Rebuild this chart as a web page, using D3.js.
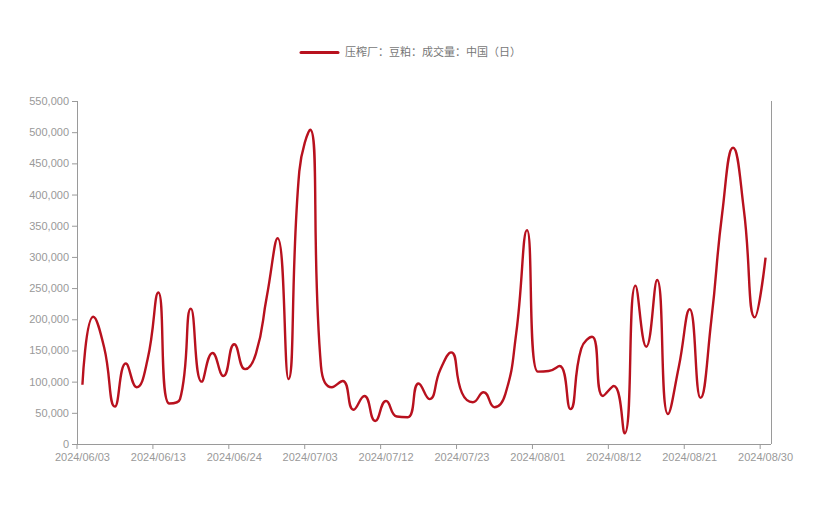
<!DOCTYPE html>
<html>
<head>
<meta charset="utf-8">
<script src="https://cdn.jsdelivr.net/npm/d3@7"></script>
<style>
  html, body { margin: 0; padding: 0; background: #fff; }
  svg { display: block; }
</style>
</head>
<body>
<svg id="chart" width="829" height="521"></svg>
<script>
const seriesName = "压榨厂：豆粕：成交量：中国（日）";

const dates = [
  "2024/06/03","2024/06/04","2024/06/05","2024/06/06","2024/06/07","2024/06/11","2024/06/12","2024/06/13","2024/06/14",
  "2024/06/17","2024/06/18","2024/06/19","2024/06/20","2024/06/21","2024/06/24","2024/06/25","2024/06/26","2024/06/27","2024/06/28",
  "2024/07/01","2024/07/02","2024/07/03","2024/07/04","2024/07/05","2024/07/08","2024/07/09","2024/07/10","2024/07/11","2024/07/12",
  "2024/07/15","2024/07/16","2024/07/17","2024/07/18","2024/07/19","2024/07/22","2024/07/23","2024/07/24","2024/07/25","2024/07/26",
  "2024/07/29","2024/07/30","2024/07/31","2024/08/01","2024/08/02","2024/08/05","2024/08/06","2024/08/07","2024/08/08","2024/08/09",
  "2024/08/12","2024/08/13","2024/08/14","2024/08/15","2024/08/16","2024/08/19","2024/08/20","2024/08/21","2024/08/22","2024/08/23",
  "2024/08/26","2024/08/27","2024/08/28","2024/08/29","2024/08/30"
];

const volumes = [
  95000, 204000, 155000, 60000, 129000, 91000, 135000, 243000, 65000,
  72000, 217000, 100000, 146000, 109000, 160000, 120000, 145000, 236000, 330000,
  104000, 437000, 504000, 125000, 91000, 101000, 55000, 77000, 37000, 69000,
  44000, 43000, 97000, 72000, 119000, 147000, 82000, 67000, 83000, 59000,
  80000, 177000, 343000, 116000, 117000, 125000, 56000, 153000, 172000, 77000,
  93000, 17000, 254000, 156000, 263000, 48000, 124000, 216000, 74000, 199000,
  370000, 475000, 375000, 203000, 299000
];

const yTicks = [0, 50000, 100000, 150000, 200000, 250000, 300000, 350000, 400000, 450000, 500000, 550000];
const xTickLabels = ["2024/06/03","2024/06/13","2024/06/24","2024/07/03","2024/07/12","2024/07/23","2024/08/01","2024/08/12","2024/08/21","2024/08/30"];

const svg = d3.select("#chart");
const plotLeft = 77, plotRight = 771, plotTop = 101, plotBottom = 444;
const axisColor = "#9a9a9a";
const labelColor = "#999";
const lineColor = "#b8111e";
const tickFont = "'Liberation Sans', Arial, sans-serif";

const x = d3.scaleBand().domain(dates).range([plotLeft, plotRight]).padding(0);
const y = d3.scaleLinear().domain([0, 550000]).range([plotBottom, plotTop]);
const bw = x.bandwidth();

// ECharts-like smooth curve (smooth = 0.5, with control point clamping)
function EchartsSmooth(context) { this._context = context; }
EchartsSmooth.prototype = {
  areaStart() {}, areaEnd() {},
  lineStart() { this._pts = []; },
  point(px, py) { this._pts.push([+px, +py]); },
  lineEnd() {
    const ctx = this._context, p = this._pts, n = p.length, s = 0.5;
    if (!n) return;
    ctx.moveTo(p[0][0], p[0][1]);
    let cp0x = p[0][0], cp0y = p[0][1];
    for (let i = 1; i < n; i++) {
      const [xx, yy] = p[i];
      const [prevX, prevY] = p[i - 1];
      let cp1x, cp1y, ncx, ncy;
      if (i === n - 1) {
        cp1x = xx; cp1y = yy; ncx = xx; ncy = yy;
      } else {
        const [nx, ny] = p[i + 1];
        const dx0 = xx - prevX, dy0 = yy - prevY, dx1 = nx - xx, dy1 = ny - yy;
        let vx = nx - prevX, vy = ny - prevY;
        const l0 = Math.hypot(dx0, dy0), l1 = Math.hypot(dx1, dy1);
        const r = l1 / (l0 + l1);
        ncx = xx + vx * s * r; ncy = yy + vy * s * r;
        ncx = Math.min(ncx, Math.max(nx, xx)); ncy = Math.min(ncy, Math.max(ny, yy));
        ncx = Math.max(ncx, Math.min(nx, xx)); ncy = Math.max(ncy, Math.min(ny, yy));
        vx = ncx - xx; vy = ncy - yy;
        cp1x = xx - vx * l0 / l1; cp1y = yy - vy * l0 / l1;
        cp1x = Math.min(cp1x, Math.max(prevX, xx)); cp1y = Math.min(cp1y, Math.max(prevY, yy));
        cp1x = Math.max(cp1x, Math.min(prevX, xx)); cp1y = Math.max(cp1y, Math.min(prevY, yy));
        vx = xx - cp1x; vy = yy - cp1y;
        ncx = xx + vx * l1 / l0; ncy = yy + vy * l1 / l0;
      }
      ctx.bezierCurveTo(cp0x, cp0y, cp1x, cp1y, xx, yy);
      cp0x = ncx; cp0y = ncy;
    }
  }
};
const echartsCurve = ctx => new EchartsSmooth(ctx);

// Left y axis
const yAxis = d3.axisLeft(y).tickValues(yTicks).tickSize(5).tickPadding(3).tickFormat(d3.format(","));
const gy = svg.append("g").attr("transform", `translate(${plotLeft},0)`).call(yAxis);
gy.select(".domain").attr("stroke", axisColor).attr("d", `M0.5,${plotTop}V${plotBottom}`);
gy.selectAll(".tick line").attr("stroke", axisColor).attr("x1", 0.5);
gy.selectAll(".tick text").attr("fill", labelColor).style("font-family", tickFont).style("font-size", "11px");

// Right axis line
svg.append("line").attr("x1", plotRight + 0.5).attr("x2", plotRight + 0.5).attr("y1", plotTop).attr("y2", plotBottom)
  .attr("stroke", axisColor);

// Bottom x axis
const xAxis = d3.axisBottom(x).tickValues(xTickLabels).tickSize(5).tickPadding(4);
const gx = svg.append("g").attr("transform", `translate(0,${plotBottom})`).call(xAxis);
gx.select(".domain").attr("stroke", axisColor).attr("d", `M${plotLeft},0.5H${plotRight}`);
gx.selectAll(".tick line").attr("stroke", axisColor).attr("x1", -bw / 2).attr("x2", -bw / 2);
gx.selectAll(".tick text").attr("fill", labelColor).style("font-family", tickFont).style("font-size", "11px");

// Line
const line = d3.line()
  .x((d, i) => x(dates[i]) + bw / 2)
  .y(d => y(d))
  .curve(echartsCurve);

svg.append("path")
  .datum(volumes)
  .attr("fill", "none")
  .attr("stroke", lineColor)
  .attr("stroke-width", 2.4)
  .attr("stroke-linejoin", "round")
  .attr("d", line);

// Legend
const lg = svg.append("g");
lg.append("line").attr("x1", 301).attr("x2", 338).attr("y1", 52.5).attr("y2", 52.5)
  .attr("stroke", lineColor).attr("stroke-width", 3).attr("stroke-linecap", "round");
lg.append("text").attr("x", 345).attr("y", 53).attr("dominant-baseline", "middle")
  .attr("fill", "#777").style("font-family", "'Noto Sans CJK SC', sans-serif").style("font-size", "11px")
  .text(seriesName);
</script>
</body>
</html>
